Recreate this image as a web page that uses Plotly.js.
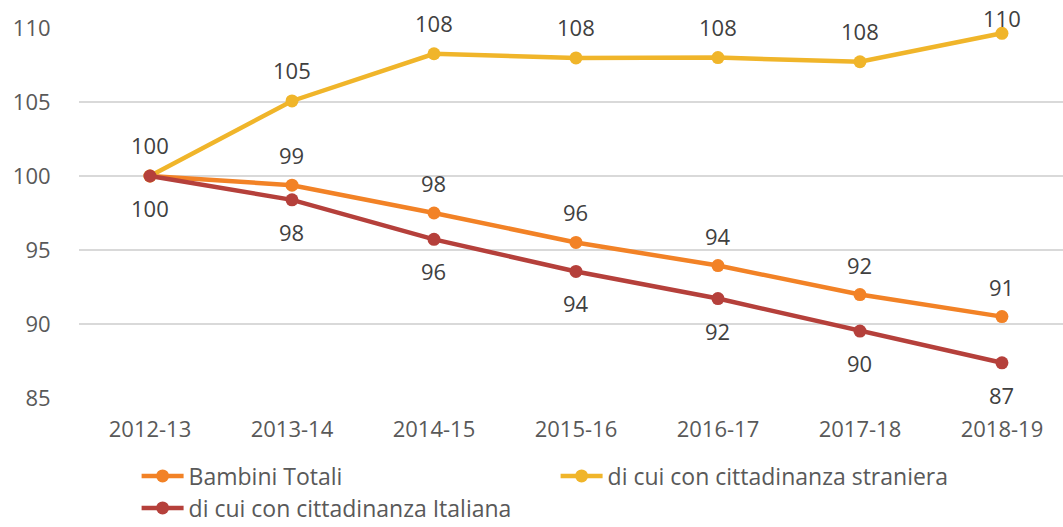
<!DOCTYPE html>
<html>
<head>
<meta charset="utf-8">
<script src="https://cdn.plot.ly/plotly-3.0.1.min.js"></script>
<style>html,body{margin:0;padding:0;background:#fff;}#chart{width:1063px;height:527px;}</style>
</head>
<body>
<div id="chart"></div>
<script>
const categories = ["2012-13","2013-14","2014-15","2015-16","2016-17","2017-18","2018-19"];
const bambiniTotali = [100, 99.38, 97.5, 95.51, 93.95, 91.99, 90.5];
const cittadinanzaStraniera = [100, 105.07, 108.26, 107.98, 108.0, 107.72, 109.64];
const cittadinanzaItaliana = [100, 98.39, 95.72, 93.55, 91.72, 89.52, 87.38];
const seriesNames = ["Bambini Totali", "di cui con cittadinanza straniera", "di cui con cittadinanza Italiana"];
const yTicks = [85, 90, 95, 100, 105, 110];

const FONT = "Open Sans, sans-serif";
const colors = ["#F28226", "#F0B52A", "#B5403B"];
const labelShift = [30, 31, -32];

const series = [bambiniTotali, cittadinanzaStraniera, cittadinanzaItaliana];
const legends = ["legend", "legend", "legend2"];

const traces = series.map((vals, i) => ({
  x: categories, y: vals, name: seriesNames[i], type: "scatter", mode: "lines+markers",
  line: {color: colors[i], width: 4.5}, marker: {color: colors[i], size: 13},
  legend: legends[i], cliponaxis: false, hoverinfo: "skip"
}));

const annotations = [];
series.forEach((vals, i) => {
  vals.forEach((v, j) => {
    if (j === 0 && i === 0) return; // overlapping labels at first point
    let shift = labelShift[i];
    if (i === 1 && v > 109) shift = 15;
    annotations.push({
      x: categories[j], y: v, text: String(Math.round(v)), showarrow: false,
      yshift: shift, font: {family: FONT, size: 22, color: "#404040"}
    });
  });
});

const legendFont = {family: FONT, size: 23, color: "#595959"};
const layout = {
  width: 1063, height: 527,
  margin: {l: 79, r: 0, t: 28, b: 129},
  paper_bgcolor: "#fff", plot_bgcolor: "#fff",
  font: {family: FONT, size: 22, color: "#595959"},
  showlegend: true,
  xaxis: {
    type: "category", range: [-0.5, 6.43], showgrid: false, zeroline: false,
    showline: false, ticks: "outside", ticklen: 12, tickcolor: "rgba(0,0,0,0)",
    tickfont: {family: FONT, size: 22, color: "#595959"}
  },
  yaxis: {
    range: [85, 110], tickvals: yTicks, showgrid: true, gridcolor: "#d9d9d9", gridwidth: 1.3,
    zeroline: false, showline: false, ticks: "outside", ticklen: 23, tickcolor: "rgba(0,0,0,0)",
    tickfont: {family: FONT, size: 22, color: "#595959"}
  },
  legend: {
    orientation: "h", xref: "container", x: 0.1285, xanchor: "left",
    yref: "container", y: 1 - 476 / 527, yanchor: "middle",
    itemwidth: 42, entrywidth: 362, entrywidthmode: "pixels",
    font: legendFont, bgcolor: "rgba(0,0,0,0)"
  },
  legend2: {
    orientation: "h", xref: "container", x: 0.1285, xanchor: "left",
    yref: "container", y: 1 - 508 / 527, yanchor: "middle",
    itemwidth: 42,
    font: legendFont, bgcolor: "rgba(0,0,0,0)"
  },
  annotations: annotations
};

Plotly.newPlot("chart", traces, layout, {displayModeBar: false, staticPlot: true});
</script>
</body>
</html>
